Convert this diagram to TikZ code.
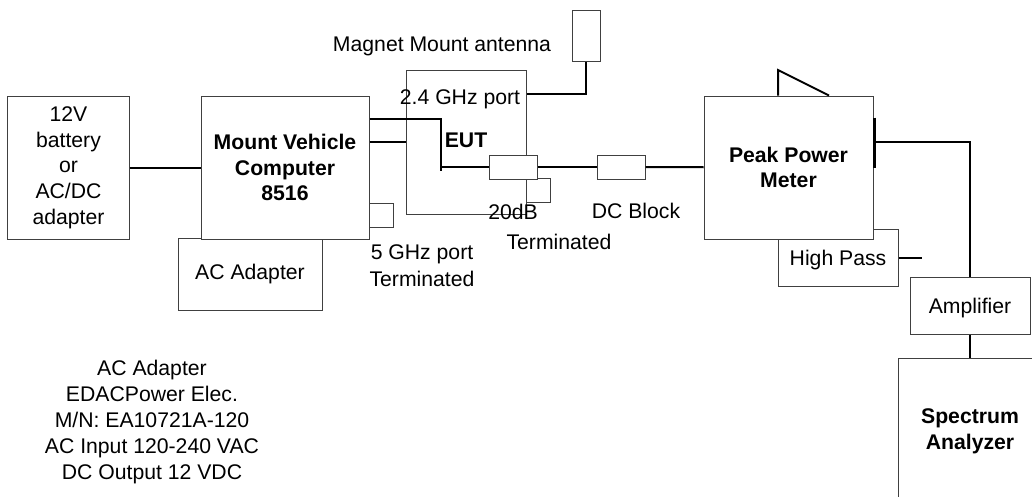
\documentclass[tikz,border=0pt]{standalone}
\usepackage{fontspec}
\setmainfont{Liberation Sans}
\usepackage{tikz}
\tikzstyle{block} = [rectangle, draw=black!75, line width=1pt, fill=white, align=center, inner sep=0pt, font=\fontsize{21.2}{25.7}\selectfont]
\tikzstyle{openblock} = [rectangle, draw=black!75, line width=1pt, align=center, inner sep=0pt]
\tikzstyle{label} = [align=center, inner sep=0pt]
\tikzstyle{line} = [draw, line width=2pt, black]
\begin{document}
\begin{tikzpicture}[x=1pt, y=1pt, font=\fontsize{21.2}{26.5}\selectfont]
    \useasboundingbox (-68.5,167.5) rectangle (963.5,-328.5);
    % Place nodes
    \node [block, minimum width=121pt, minimum height=143pt] (battery) {12V\\battery\\or\\AC/DC\\adapter};
    \node [block, minimum width=144pt, minimum height=72pt, right of=battery, node distance=181.5pt, yshift=-106.5pt] (acadapter) {AC Adapter};
    \node [block, minimum width=168pt, minimum height=143pt, above of=acadapter, node distance=106.5pt, xshift=35pt] (computer) {\bfseries Mount Vehicle\\\bfseries Computer\\\bfseries 8516};
    \node [block, minimum width=24pt, minimum height=24pt, right of=computer, node distance=96pt, yshift=-47.5pt] (term5) {};
    \node [openblock, minimum width=120pt, minimum height=144pt, right of=computer, node distance=181pt, yshift=25.5pt, text height=11pt, text depth=0pt] (eut) {\bfseries EUT};
    \node [block, minimum width=28pt, minimum height=51pt, right of=eut, node distance=120pt, yshift=106.5pt] (antenna) {};
    \node [openblock, minimum width=24pt, minimum height=24pt, below of=eut, node distance=48pt, xshift=72pt] (term20) {};
    \node [block, minimum width=48pt, minimum height=24pt, left of=term20, node distance=25pt, yshift=23pt] (attenuator) {};
    \node [block, minimum width=48pt, minimum height=24pt, right of=attenuator, node distance=108pt] (dcblock) {};
    \node [block, minimum width=120pt, minimum height=57pt, right of=dcblock, node distance=217pt, yshift=-90.5pt, text height=15pt, text depth=0pt] (highpass) {High Pass};
    \node [block, minimum width=169pt, minimum height=143pt, above of=highpass, node distance=90pt, xshift=-49.5pt] (meter) {\bfseries Peak Power\\\bfseries Meter};
    \node [block, minimum width=120pt, minimum height=57pt, right of=highpass, node distance=132pt, yshift=-48pt, text height=15pt, text depth=0pt] (amplifier) {Amplifier};
    \node [block, minimum width=144pt, minimum height=146pt, below of=amplifier, node distance=125.5pt] (spectrum) {\bfseries Spectrum\\\bfseries Analyzer};
    % Labels
    \node [label, left of=antenna, node distance=144pt, yshift=-11pt] (magnet) {Magnet Mount antenna};
    \node [label, above of=eut, node distance=43pt, xshift=-6pt] (port24) {2.4 GHz port};
    \node [label, below of=attenuator, node distance=45pt] (att20) {20dB};
    \node [label, below of=term20, node distance=52pt, xshift=21pt] (termlabel) {Terminated};
    \node [label, below of=dcblock, node distance=44pt, xshift=15pt] (dclabel) {DC Block};
    \node [label, below of=term5, node distance=50.5pt, xshift=41pt] (port5) {5 GHz port\\Terminated};
    \node [label, below of=acadapter, node distance=148.5pt, xshift=-98pt, font=\fontsize{21.2}{26}\selectfont] (notes) {AC Adapter\\EDACPower Elec.\\M/N: EA10721A-120\\AC Input 120-240 VAC\\DC Output 12 VDC};
    % Free ends
    \coordinate [below of=eut, node distance=29pt, xshift=-25pt] (tap);
    \coordinate [right of=highpass, node distance=84pt] (stub);
    \coordinate [above of=meter, node distance=97.5pt, xshift=-10.5pt] (peak);
    % Draw edges
    \path [line] (battery) -- (computer);
    \path [line] ([yshift=48.5pt]computer.east) -| (tap);
    \path [line] (computer.east |- eut.west) -- (eut.west);
    \path [line] (antenna.south) |- ([yshift=48pt]eut.east);
    \path [line] (attenuator.west) -- (attenuator.west -| tap);
    \path [line] (attenuator) -- (dcblock);
    \path [line] (dcblock) -- (meter);
    \path [line] (meter.east |- eut.west) -| (amplifier.north);
    \path [line] (amplifier) -- (spectrum);
    \path [line] (highpass.east) -- (stub);
    \path [line] (peak |- meter.north) -- (peak) -- ([xshift=40.5pt]meter.north);
    \path [line, line width=3pt] ([xshift=1pt,yshift=50pt]meter.east) -- ([xshift=1pt]meter.east);
\end{tikzpicture}
\end{document}
